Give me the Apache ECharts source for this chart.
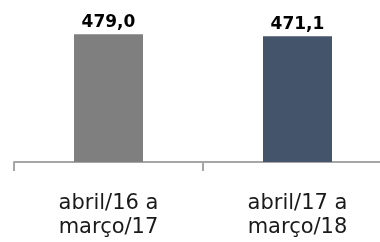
<!DOCTYPE html>
<html>
<head>
<meta charset="utf-8">
<script src="https://cdn.jsdelivr.net/npm/echarts@6/dist/echarts.min.js"></script>
<style>
  html, body { margin: 0; padding: 0; background: #fff; }
  #chart { width: 380px; height: 242px; }
</style>
</head>
<body>
<div id="chart"></div>
<script>
// dados do gráfico
var periodos = ['abril/16 a\nmarço/17', 'abril/17 a\nmarço/18'];
var valores = [479.0, 471.1];
var cores = ['#7F7F7F', '#44546A'];

var myChart = echarts.init(document.getElementById('chart'));

var option = {
  animation: false,
  grid: { left: 14, right: -12, top: 2, bottom: 80, outerBoundsMode: 'none', containLabel: false },
  xAxis: {
    type: 'category',
    data: periodos,
    axisLine: { lineStyle: { color: '#A6A6A6', width: 2 } },
    axisTick: { show: true, length: 9, lineStyle: { color: '#A6A6A6', width: 2 } },
    axisLabel: {
      margin: 30,
      color: '#1a1a1a',
      fontFamily: 'DejaVu Sans',
      fontSize: 21,
      lineHeight: 24
    }
  },
  yAxis: {
    type: 'value',
    min: 0,
    max: 600,
    show: false,
    splitLine: { show: false }
  },
  series: [{
    type: 'bar',
    barWidth: 69,
    data: valores.map(function (v, i) {
      return { value: v, itemStyle: { color: cores[i] } };
    }),
    label: {
      show: true,
      position: 'top',
      distance: 3,
      color: '#000',
      fontFamily: 'DejaVu Sans',
      fontWeight: 'bold',
      fontSize: 17,
      formatter: function (p) {
        return p.value.toFixed(1).replace('.', ',');
      }
    }
  }]
};

myChart.setOption(option);
</script>
</body>
</html>
